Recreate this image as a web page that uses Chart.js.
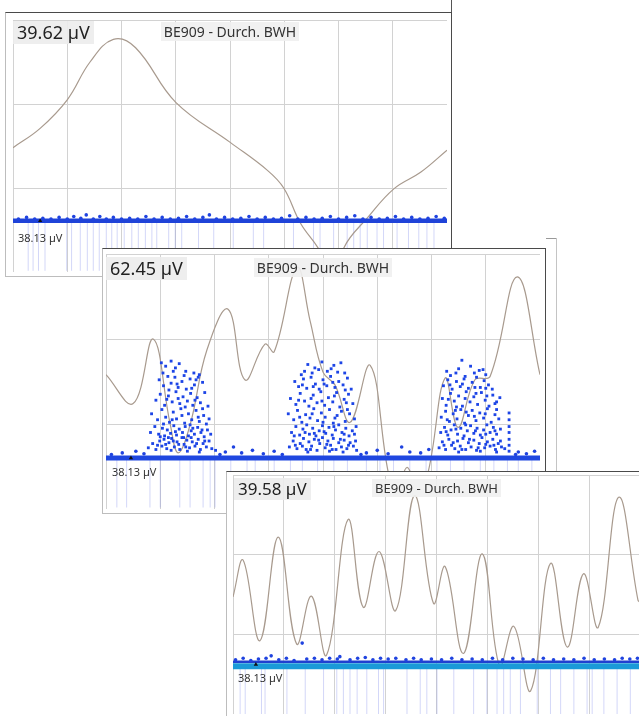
<!DOCTYPE html>
<html>
<head>
<meta charset="utf-8">
<script src="https://cdn.jsdelivr.net/npm/chart.js@4.4.1/dist/chart.umd.min.js"></script>
<style>
  body { margin: 0; width: 639px; height: 716px; overflow: hidden; background: #fff; position: relative;
         font-family: "Noto Sans", "Open Sans", sans-serif; }
  .panel { position: absolute; background: #fff; }
  .frame { position: absolute; left: 0; top: 0; right: 0; bottom: 0; box-sizing: border-box;
           border: 1px solid #bdbdbd; border-top-color: #4a4a4a; border-right-color: #4a4a4a; }
  .plot { position: absolute; }
  .val { position: absolute; background: rgba(236,236,236,0.9); color: #222; padding: 0 4px; white-space: nowrap; }
  .ttl { position: absolute; text-align: center; white-space: nowrap; }
  .ttl span { background: rgba(240,240,240,0.9); color: #333; padding: 0 3px; }
  .base { position: absolute; color: #333; white-space: nowrap; }
  .edge { position: absolute; background: #bbb; }
</style>
</head>
<body>

<div class="edge" style="left:451px;top:0;width:1px;height:13px;background:#555"></div>
<div class="edge" style="left:546px;top:238px;width:11px;height:1px;background:#999"></div>
<div class="edge" style="left:556px;top:238px;width:1px;height:234px;background:#c4c4c4"></div>

<div class="panel" style="left:5px;top:12px;width:447px;height:265px;z-index:1">
  <div class="frame"></div>
  <div class="plot" style="left:8px;top:8px;width:434px;height:252px"><canvas id="c1"></canvas></div>
  <div class="val" id="v1" style="left:8px;top:9px;font-size:18px;line-height:23px"></div>
  <div class="ttl" id="t1" style="left:8px;top:10px;width:434px;font-size:14px;line-height:20px"><span></span></div>
  <div class="base" id="b1" style="left:13px;top:218px;font-size:11px"></div>
</div>

<div class="panel" style="left:102px;top:248px;width:444px;height:266px;z-index:2">
  <div class="frame"></div>
  <div class="plot" style="left:4px;top:6px;width:434px;height:255px"><canvas id="c2"></canvas></div>
  <div class="val" id="v2" style="left:4px;top:9px;font-size:18px;line-height:23px"></div>
  <div class="ttl" id="t2" style="left:4px;top:10px;width:434px;font-size:14px;line-height:20px"><span></span></div>
  <div class="base" id="b2" style="left:10px;top:216px;font-size:11px"></div>
</div>

<div class="panel" style="left:226px;top:471px;width:420px;height:250px;z-index:3">
  <div class="frame"></div>
  <div class="plot" style="left:7px;top:4px;width:407px;height:239px"><canvas id="c3"></canvas></div>
  <div class="val" id="v3" style="left:8px;top:7px;font-size:17px;line-height:22px"></div>
  <div class="ttl" id="t3" style="left:7px;top:8px;width:407px;font-size:13px;line-height:19px"><span></span></div>
  <div class="base" id="b3" style="left:12px;top:199px;font-size:11px"></div>
</div>

<script>
// labels
const panelValues = ['39.62 µV', '62.45 µV', '39.58 µV'];
const panelTitle = 'BE909 - Durch. BWH';
const baseLabel = '38.13 µV';

// grid: 8 columns x 3 rows, values in grid units
const line1 = [[0,1.48],[0.5,1.71],[1.0,2.05],[1.42,2.5],[1.85,2.77],[2.26,2.67],[3.0,2.02],[4.01,1.54],
  [4.69,1.21],[4.99,1.0],[5.3,0.58],[5.62,0.29],[5.86,0.02],[5.98,-0.1],[6.1,0.29],[6.54,0.65],[7.02,0.99],
  [7.52,1.19],[8.0,1.45]];

const line2 = [[0,1.58],[0.5,1.24],[0.87,2.0],[1.18,1.01],[1.33,0.66],[1.55,0.99],[1.86,1.87],[2.25,2.35],
  [2.56,1.52],[2.93,1.94],[3.1,1.85],[3.52,2.84],[3.76,2.22],[4.0,1.61],[4.22,1.46],[4.5,1.02],[4.87,1.69],
  [5.2,0.44],[5.35,0.2],[5.55,0.49],[5.75,0.22],[5.94,0.44],[6.25,1.54],[6.49,0.96],[6.8,1.52],[7.08,1.56],
  [7.58,2.73],[8.0,1.58]];

const line3 = [[0,1.47],[0.2,1.93],[0.53,0.92],[0.89,2.22],[1.25,0.88],[1.54,1.48],[1.84,0.74],[2.26,2.44],
  [2.56,1.34],[2.87,2.04],[3.2,1.3],[3.57,2.74],[3.94,1.39],[4.17,1.85],[4.53,0.76],[4.9,2.01],[5.24,0.6],
  [5.52,1.1],[5.85,0.29],[6.24,1.89],[6.57,0.84],[6.89,1.76],[7.18,1.09],[7.58,2.72],[7.96,1.43],[8.0,1.4]];

const band1 = [[0,0.61],[8,0.61]];
const band2 = [[0,0.6],[8,0.6]];
const band3 = [[0,0.6],[8,0.6]];
const band3Top = [[0,0.655],[8,0.655]];

const marker1 = [[0.5,0.61]];
const marker2 = [[0.46,0.6]];
const marker3 = [[0.45,0.62]];

const dots1 = [[0.1,0.63],[0.25,0.65],[0.4,0.63],[0.55,0.64],[0.7,0.63],[0.85,0.65],[1.0,0.63],[1.12,0.66],
  [1.25,0.64],[1.35,0.68],[1.48,0.63],[1.6,0.66],[1.72,0.63],[1.85,0.65],[2.0,0.63],[2.15,0.64],[2.3,0.63],
  [2.45,0.66],[2.6,0.63],[2.75,0.65],[2.9,0.63],[3.05,0.64],[3.2,0.66],[3.35,0.63],[3.5,0.65],[3.62,0.68],
  [3.75,0.63],[3.9,0.65],[4.05,0.63],[4.2,0.64],[4.35,0.66],[4.5,0.63],[4.65,0.65],[4.8,0.63],[4.95,0.64],
  [5.1,0.67],[5.25,0.63],[5.4,0.65],[5.55,0.63],[5.7,0.64],[5.85,0.66],[6.0,0.63],[6.15,0.65],[6.3,0.67],
  [6.45,0.63],[6.6,0.65],[6.75,0.63],[6.9,0.64],[7.05,0.66],[7.2,0.63],[7.35,0.65],[7.5,0.63],[7.65,0.64],
  [7.8,0.66],[7.95,0.64]];

const dots2 = [[0.1,0.64],[0.3,0.66],[0.55,0.68],[0.7,0.65],[2.1,0.64],[2.2,0.67],[2.35,0.73],[2.5,0.66],
  [2.7,0.69],[2.9,0.65],[3.1,0.68],[3.25,0.64],[4.7,0.64],[4.8,0.66],[5.0,0.69],[5.2,0.65],[5.45,0.73],
  [5.6,0.67],[5.8,0.66],[5.95,0.7],[7.55,0.64],[7.6,0.67],[7.75,0.65],[7.9,0.68]];

const cluster1 = [[1.02,1.72],[1.1,1.68],[1.2,1.74],[1.28,1.66],[1.35,1.71],[1.47,1.62],[1.62,1.6],[1.72,1.58],
  [0.98,1.52],[1.06,1.45],[1.14,1.56],[1.2,1.48],[1.27,1.55],[1.33,1.43],[1.4,1.5],[1.48,1.41],[1.55,1.53],
  [1.63,1.46],[1.7,1.55],[1.78,1.49],[0.92,1.28],[1.0,1.35],[1.08,1.22],[1.15,1.33],[1.22,1.26],[1.29,1.38],
  [1.36,1.24],[1.42,1.32],[1.5,1.27],[1.56,1.36],[1.6,1.22],[1.68,1.31],[1.74,1.25],[1.82,1.37],[1.88,1.21],
  [0.84,1.12],[0.95,1.05],[1.03,1.17],[1.1,1.08],[1.17,1.02],[1.24,1.14],[1.3,1.06],[1.38,1.18],[1.45,1.01],
  [1.52,1.12],[1.58,1.05],[1.66,1.16],[1.72,1.03],[1.8,1.1],[1.9,1.06],[0.82,0.9],[0.9,0.97],[0.97,0.88],
  [1.04,0.95],[1.08,0.86],[1.13,0.93],[1.19,0.89],[1.25,0.98],[1.3,0.87],[1.35,0.94],[1.41,0.9],[1.46,0.97],
  [1.52,0.86],[1.57,0.92],[1.63,0.88],[1.69,0.96],[1.75,0.9],[1.81,0.85],[1.87,0.93],[1.93,0.88],[0.78,0.72],
  [0.86,0.77],[0.92,0.7],[0.99,0.8],[1.03,0.74],[1.07,0.82],[1.12,0.71],[1.16,0.78],[1.21,0.83],[1.26,0.73],
  [1.31,0.79],[1.36,0.7],[1.4,0.84],[1.44,0.76],[1.49,0.81],[1.54,0.72],[1.59,0.79],[1.64,0.74],[1.7,0.82],
  [1.74,0.7],[1.79,0.77],[1.85,0.73],[1.9,0.8],[1.95,0.71],[2.02,0.69],
  [1.05,1.6],[1.16,1.4],[1.24,1.62],[1.31,1.47],[1.44,1.57],[1.58,1.42],[1.66,1.52],[1.12,1.29],[1.33,1.3],
  [1.46,1.2],[1.64,1.28],[1.78,1.18],[1.06,1.0],[1.22,1.05],[1.4,1.1],[1.55,0.99],[1.7,1.08],[1.85,1.0],
  [1.0,0.85],[1.15,0.84],[1.28,0.91],[1.43,0.84],[1.6,0.95],[1.77,0.93],[0.95,0.75],[1.1,0.76],[1.24,0.8],
  [1.34,0.76],[1.47,0.73],[1.57,0.84],[1.67,0.77],[1.82,0.8],[1.2,0.69],[1.5,0.68],[1.72,0.67]];

const cluster2 = [[3.72,1.7],[3.85,1.66],[3.98,1.73],[4.08,1.62],[4.2,1.69],[4.33,1.72],[4.4,1.6],[3.6,1.58],
  [3.48,1.5],[3.55,1.44],[3.64,1.53],[3.7,1.42],[3.78,1.55],[3.86,1.47],[3.93,1.41],[4.0,1.52],[4.07,1.45],
  [4.14,1.56],[4.22,1.43],[4.29,1.5],[4.37,1.46],[4.45,1.54],[4.52,1.41],[3.4,1.3],[3.5,1.23],[3.58,1.36],
  [3.66,1.27],[3.74,1.21],[3.82,1.34],[3.89,1.25],[3.96,1.38],[4.03,1.22],[4.1,1.31],[4.18,1.26],[4.25,1.37],
  [4.31,1.2],[4.39,1.29],[4.47,1.35],[4.55,1.24],[3.36,1.12],[3.46,1.05],[3.53,1.16],[3.61,1.02],[3.68,1.11],
  [3.76,1.07],[3.83,1.18],[3.9,1.04],[3.97,1.13],[4.04,1.08],[4.12,1.17],[4.19,1.01],[4.26,1.1],[4.34,1.15],
  [4.41,1.03],[4.49,1.12],[4.58,1.06],[3.42,0.9],[3.5,0.97],[3.57,0.87],[3.63,0.94],[3.7,0.99],[3.75,0.88],
  [3.81,0.95],[3.87,0.86],[3.93,0.92],[3.99,0.98],[4.05,0.89],[4.11,0.96],[4.17,0.87],[4.23,0.93],[4.29,0.99],
  [4.35,0.9],[4.42,0.95],[4.48,0.86],[4.54,0.92],[4.61,0.97],[3.38,0.73],[3.45,0.8],[3.52,0.71],[3.58,0.77],
  [3.64,0.83],[3.69,0.7],[3.74,0.79],[3.79,0.74],[3.84,0.82],[3.89,0.69],[3.94,0.77],[3.99,0.84],[4.04,0.72],
  [4.09,0.8],[4.14,0.75],[4.19,0.83],[4.24,0.7],[4.29,0.78],[4.34,0.73],[4.39,0.81],[4.44,0.71],[4.5,0.78],
  [4.56,0.74],[4.62,0.69],
  [3.66,1.62],[3.8,1.6],[3.92,1.64],[4.15,1.65],[4.27,1.61],[3.62,1.46],[3.82,1.44],[4.02,1.47],[4.18,1.49],
  [4.41,1.4],[3.55,1.28],[3.78,1.3],[3.98,1.27],[4.21,1.33],[4.43,1.25],[3.57,1.08],[3.8,1.12],[4.0,1.02],
  [4.22,1.07],[4.45,1.17],[3.47,0.86],[3.67,0.9],[3.84,0.89],[4.02,0.91],[4.2,0.97],[4.39,0.88],[4.58,0.88],
  [3.49,0.75],[3.62,0.74],[3.77,0.7],[3.92,0.81],[4.07,0.76],[4.17,0.7],[4.32,0.82],[4.47,0.75],[4.6,0.8],
  [3.72,0.67],[4.12,0.68],[4.37,0.67]];

const cluster3 = [[6.56,1.75],[6.28,1.62],[6.45,1.6],[6.72,1.68],[6.88,1.63],[7.0,1.58],[6.62,1.56],
  [6.22,1.45],[6.3,1.52],[6.38,1.41],[6.46,1.5],[6.53,1.44],[6.6,1.53],[6.68,1.42],[6.75,1.49],[6.83,1.55],
  [6.9,1.43],[6.97,1.51],[7.05,1.46],[7.12,1.41],[6.2,1.3],[6.27,1.22],[6.35,1.36],[6.42,1.27],[6.5,1.33],
  [6.57,1.21],[6.64,1.38],[6.71,1.26],[6.78,1.32],[6.85,1.23],[6.92,1.37],[6.99,1.28],[7.06,1.21],[7.13,1.34],
  [7.2,1.26],[7.26,1.31],[6.18,1.08],[6.26,1.15],[6.33,1.03],[6.4,1.12],[6.47,1.06],[6.54,1.17],[6.61,1.01],
  [6.68,1.1],[6.75,1.16],[6.82,1.04],[6.89,1.13],[6.96,1.07],[7.03,1.18],[7.1,1.02],[7.17,1.11],[7.24,1.06],
  [6.17,0.9],[6.24,0.96],[6.3,0.87],[6.36,0.93],[6.42,0.99],[6.48,0.88],[6.54,0.95],[6.6,0.86],[6.66,0.92],
  [6.72,0.98],[6.78,0.89],[6.84,0.95],[6.9,0.87],[6.96,0.93],[7.02,0.99],[7.08,0.9],[7.14,0.96],[7.2,0.88],
  [7.27,0.94],[6.14,0.72],[6.2,0.79],[6.26,0.7],[6.32,0.82],[6.37,0.75],[6.43,0.71],[6.48,0.8],[6.53,0.74],
  [6.58,0.83],[6.63,0.7],[6.68,0.78],[6.73,0.73],[6.78,0.81],[6.83,0.69],[6.88,0.77],[6.93,0.84],[6.98,0.72],
  [7.03,0.79],[7.08,0.74],[7.13,0.82],[7.18,0.7],[7.23,0.77],[7.29,0.73],[7.35,0.71],
  [7.43,1.13],[7.43,1.05],[7.43,0.97],[7.43,0.9],[7.43,0.82],[7.43,0.75],[7.43,0.68],
  [6.35,1.57],[6.5,1.65],[6.79,1.6],[6.95,1.64],[6.34,1.46],[6.57,1.47],[6.8,1.43],[7.0,1.42],[6.31,1.29],
  [6.46,1.2],[6.62,1.3],[6.82,1.36],[7.02,1.33],[7.17,1.24],[6.29,1.05],[6.44,1.16],[6.64,1.14],[6.79,1.09],
  [6.99,1.12],[7.2,1.17],[6.27,0.91],[6.45,0.94],[6.63,0.99],[6.81,0.92],[7.0,0.88],[7.17,0.92],[6.23,0.75],
  [6.4,0.78],[6.56,0.7],[6.7,0.82],[6.86,0.72],[7.0,0.76],[7.15,0.75],[7.27,0.8],[6.5,0.67],[6.9,0.68],
  [7.2,0.67]];

const dots3 = [[0.05,0.68],[0.2,0.7],[0.35,0.67],[0.5,0.69],[0.65,0.7],[0.75,0.73],[0.9,0.68],[1.05,0.7],
  [1.2,0.67],[1.36,0.89],[1.45,0.69],[1.6,0.7],[1.75,0.68],[1.9,0.7],[2.05,0.69],[2.1,0.72],[2.3,0.68],
  [2.45,0.7],[2.6,0.71],[2.75,0.68],[2.9,0.7],[3.05,0.69],[3.2,0.7],[3.4,0.68],[3.55,0.7],[3.7,0.68],
  [3.9,0.69],[4.1,0.68],[4.3,0.7],[4.5,0.68],[4.7,0.69],[4.9,0.68],[5.1,0.7],[5.3,0.68],[5.5,0.7],[5.7,0.69],
  [5.9,0.68],[6.1,0.7],[6.3,0.68],[6.5,0.69],[6.7,0.68],[6.9,0.7],[7.1,0.68],[7.3,0.69],[7.5,0.68],
  [7.65,0.7],[7.8,0.69],[7.95,0.7]];

const raster1 = [0.28,0.37,0.47,0.59,0.99,1.08,1.24,1.37,1.48,1.59,1.72,1.82,1.92,2.05,2.19,2.31,2.44,2.56,
  2.65,2.87,2.99,3.11,3.42,3.7,4.06,4.43,4.62,5.17,5.54,5.66,5.91,6.16,6.28,6.4,6.53,6.71,6.83,7.08,7.29,
  7.48,7.63,7.76];
const raster2 = [0.2,0.38,0.81,1.0,1.36,1.55,1.79,1.92,2.01,2.3,2.6,2.75,3.1,3.4,3.62,3.9,4.2,4.45,4.8,5.05,
  5.3,5.6,5.9,6.1,6.35,6.6,6.9,7.15,7.4,7.6,7.85];
const raster3 = [0.14,0.24,0.56,0.63,1.06,1.42,1.78,2.04,2.17,2.3,2.44,2.63,2.86,2.96,3.42,3.68,3.81,4.01,
  4.34,4.73,4.99,5.19,5.32,5.45,5.65,5.98,6.24,6.44,6.7,6.96,7.06,7.29,7.55,7.81];

const toXY = (arr) => arr.map(p => ({ x: p[0], y: p[1] }));

const makePanel = (id, line, bands, marker, dots, clusters, raster) => {
  const datasets = [];
  // blue points on top
  datasets.push({ data: toXY(dots), pointRadius: 1.8, pointBackgroundColor: '#1f43e0', pointBorderWidth: 0 });
  if (clusters) {
    datasets.push({ data: toXY(clusters), pointRadius: 2, pointStyle: 'rect', pointBackgroundColor: '#1d45e6', pointBorderWidth: 0 });
  }
  datasets.push({ data: toXY(marker), pointStyle: 'triangle', pointRadius: 2.5, pointBackgroundColor: '#111', pointBorderWidth: 0 });
  bands.forEach(b => {
    datasets.push({ data: toXY(b.data), showLine: true, pointRadius: 0, borderColor: b.color, borderWidth: b.width });
  });
  datasets.push({ data: toXY(line), showLine: true, pointRadius: 0, borderColor: '#a89a8e', borderWidth: 1.2,
    tension: 0.4 });
  datasets.push({ data: raster.map(x => ({ x: x, y: 0.3 })), pointStyle: 'line', rotation: 90, pointRadius: 24,
    pointBorderColor: 'rgba(120,135,235,0.33)', pointBorderWidth: 1 });

  new Chart(document.getElementById(id), {
    type: 'scatter',
    data: { datasets },
    options: {
      responsive: true,
      maintainAspectRatio: false,
      animation: false,
      layout: { padding: 0, autoPadding: false },
      plugins: { legend: { display: false }, tooltip: { enabled: false } },
      scales: {
        x: { type: 'linear', min: 0, max: 8, afterFit: s => { s.height = 0; },
             ticks: { display: false, stepSize: 1 }, border: { display: false },
             grid: { color: '#d2d2d2', drawTicks: false } },
        y: { type: 'linear', min: 0, max: 3, afterFit: s => { s.width = 0; },
             ticks: { display: false, stepSize: 1 }, border: { display: false },
             grid: { color: '#d2d2d2', drawTicks: false } }
      }
    }
  });
};

[1, 2, 3].forEach(i => {
  document.getElementById('v' + i).textContent = panelValues[i - 1];
  document.querySelector('#t' + i + ' span').textContent = panelTitle;
  document.getElementById('b' + i).textContent = baseLabel;
});

makePanel('c1', line1, [{ data: band1, color: '#1f43d8', width: 4.5 }], marker1, dots1, null, raster1);
makePanel('c2', line2, [{ data: band2, color: '#1f47e0', width: 5 }], marker2, dots2,
  cluster1.concat(cluster2, cluster3), raster2);
makePanel('c3', line3, [{ data: band3Top, color: '#2040d0', width: 2.5 }, { data: band3, color: '#1a9ad8', width: 6 }],
  marker3, dots3, null, raster3);
</script>
</body>
</html>
